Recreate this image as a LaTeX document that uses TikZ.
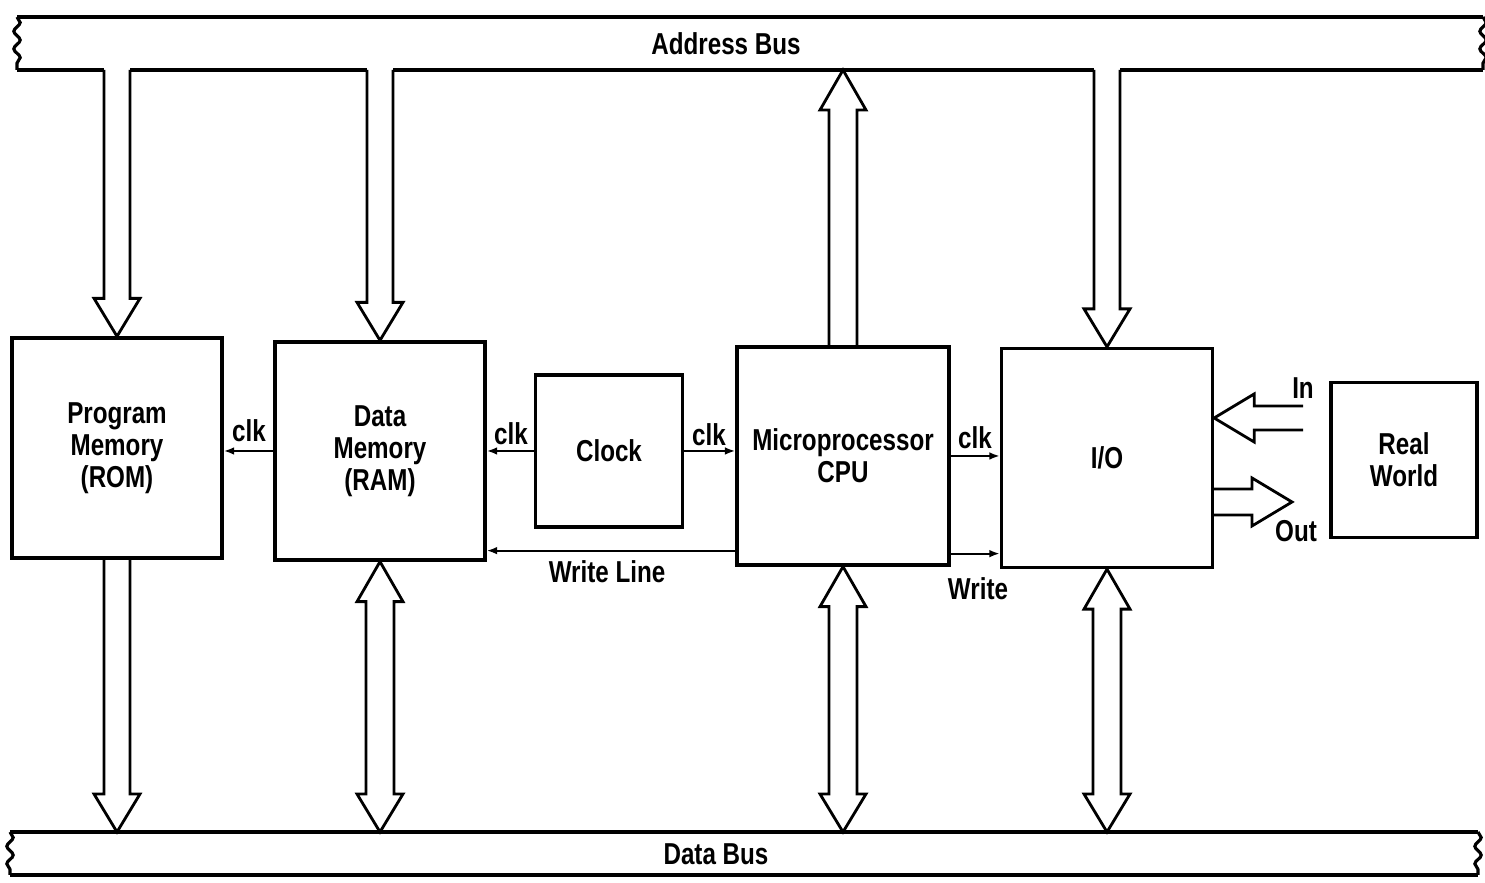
\documentclass[tikz,border=0pt]{standalone}
\usepackage{fontspec}
\newfontfamily\condsans{Liberation Sans}[FakeStretch=0.8]
\usetikzlibrary{arrows.meta,calc,decorations.pathmorphing}

\begin{document}
\begin{tikzpicture}[
  x=0.01cm, y=-0.01cm,
  font=\condsans\bfseries\fontsize{8.6}{9.1}\selectfont,
  block/.style={draw, line width=0.9pt, align=center, inner sep=0pt},
  lbl/.style={inner sep=1pt},
  sig/.style={line width=0.6pt, -{Latex[length=3pt,width=2.2pt]}},
  busline/.style={line width=0.9pt},
  busend/.style={line width=0.9pt, decorate,
    decoration={snake, amplitude=0.9pt, segment length=5pt}},
  fat/.style={line width=0.8pt, line join=miter},
  % hollow bus arrows: tip at the target
  fatdown/.style={fat, to path={
    ($(\tikztostart)+(-13,0)$) -- ($(\tikztotarget)+(-13,-38)$)
    -- ($(\tikztotarget)+(-23,-38)$) -- (\tikztotarget)
    -- ($(\tikztotarget)+(23,-38)$) -- ($(\tikztotarget)+(13,-38)$)
    -- ($(\tikztostart)+(13,0)$)}},
  fatup/.style={fat, to path={
    ($(\tikztostart)+(-14,0)$) -- ($(\tikztotarget)+(-14,40)$)
    -- ($(\tikztotarget)+(-23,40)$) -- (\tikztotarget)
    -- ($(\tikztotarget)+(23,40)$) -- ($(\tikztotarget)+(14,40)$)
    -- ($(\tikztostart)+(14,0)$)}},
  fatboth/.style={fat, to path={
    (\tikztostart) -- ($(\tikztostart)+(23,40)$) -- ($(\tikztostart)+(14,40)$)
    -- ($(\tikztotarget)+(14,-38)$) -- ($(\tikztotarget)+(23,-38)$)
    -- (\tikztotarget) -- ($(\tikztotarget)+(-23,-38)$)
    -- ($(\tikztotarget)+(-14,-38)$) -- ($(\tikztostart)+(-14,40)$)
    -- ($(\tikztostart)+(-23,40)$) -- cycle}},
  fatleft/.style={fat, to path={
    ($(\tikztostart)+(0,-12)$) -- ($(\tikztotarget)+(40,-12)$)
    -- ($(\tikztotarget)+(40,-24)$) -- (\tikztotarget)
    -- ($(\tikztotarget)+(40,24)$) -- ($(\tikztotarget)+(40,12)$)
    -- ($(\tikztostart)+(0,12)$)}},
  fatright/.style={fat, to path={
    ($(\tikztostart)+(0,-13)$) -- ($(\tikztotarget)+(-40,-13)$)
    -- ($(\tikztotarget)+(-40,-24)$) -- (\tikztotarget)
    -- ($(\tikztotarget)+(-40,24)$) -- ($(\tikztotarget)+(-40,13)$)
    -- ($(\tikztostart)+(0,13)$)}}
]
\useasboundingbox (0,0) rectangle (1485,883);

% ── Blocks ──────────────────────────────────────────────────────
\node[block, minimum width=2.10cm, minimum height=2.20cm] (rom)   at (117,448)  {Program\\Memory\\(ROM)};
\node[block, minimum width=2.10cm, minimum height=2.18cm] (ram)   at (380,451)  {Data\\Memory\\(RAM)};
\node[block, minimum width=1.47cm, minimum height=1.52cm] (clock) at (609,451)  {Clock};
\node[block, minimum width=2.12cm, minimum height=2.18cm] (cpu)   at (843,456)  {Microprocessor\\CPU};
\node[block, minimum width=2.11cm, minimum height=2.19cm] (io)    at (1107,458) {I/O};
\node[block, minimum width=1.46cm, minimum height=1.55cm] (world) at (1404,460) {Real\\World};

% ── Address bus (top) ──────────────────────────────────────────
\coordinate (ab-nw) at (17,17);
\coordinate (ab-se) at (1483,70);
\coordinate (ab-rom) at (rom.north |- ab-se);
\coordinate (ab-ram) at (ram.north |- ab-se);
\coordinate (ab-cpu) at (cpu.north |- ab-se);
\coordinate (ab-io)  at (io.north |- ab-se);
\draw[busline] (ab-nw) -- (ab-nw -| ab-se);
\draw[busline]
  (ab-nw |- ab-se) -- ($(ab-rom)+(-13,0)$)
  ($(ab-rom)+(13,0)$) -- ($(ab-ram)+(-13,0)$)
  ($(ab-ram)+(13,0)$) -- ($(ab-io)+(-13,0)$)
  ($(ab-io)+(13,0)$) -- (ab-se);
\draw[busend] (ab-nw) -- (ab-nw |- ab-se);
\draw[busend] (ab-nw -| ab-se) -- (ab-se);
\node[lbl] (abus) at (726,44) {Address Bus};

% ── Data bus (bottom) ──────────────────────────────────────────
\coordinate (db-nw) at (10,832);
\coordinate (db-se) at (1478,875);
\coordinate (db-rom) at (rom.south |- db-nw);
\coordinate (db-ram) at (ram.south |- db-nw);
\coordinate (db-cpu) at (cpu.south |- db-nw);
\coordinate (db-io)  at (io.south |- db-nw);
\draw[busline] (db-nw) -- (db-nw -| db-se)  (db-nw |- db-se) -- (db-se);
\draw[busend] (db-nw) -- (db-nw |- db-se);
\draw[busend] (db-nw -| db-se) -- (db-se);
\node[lbl] (dbus) at (716,854) {Data Bus};

% ── Bus arrows ─────────────────────────────────────────────────
\draw[fatdown] (ab-rom) to (rom.north);
\draw[fatdown] (ab-ram) to (ram.north);
\draw[fatup]   (cpu.north) to (ab-cpu);
\draw[fatdown] (ab-io) to (io.north);
\draw[fatdown] (rom.south) to (db-rom);
\draw[fatboth] (ram.south) to (db-ram);
\draw[fatboth] (cpu.south) to (db-cpu);
\draw[fatboth] (io.south) to (db-io);

% ── Clock and write lines ──────────────────────────────────────
\draw[sig] (ram.west) -- (ram.west -| rom.east);
\draw[sig] (clock.west) -- (clock.west -| ram.east);
\draw[sig] (clock.east) -- (clock.east -| cpu.west);
\draw[sig] (cpu.east) -- (cpu.east -| io.west);
\coordinate (wl) at ($(cpu.south west)+(0,-16)$);
\coordinate (wr) at ($(cpu.south east)+(0,-13)$);
\draw[sig] (wl) -- (wl -| ram.east);
\draw[sig] (wr) -- (wr -| io.west);
\node[lbl] (clk1) at (249,431) {clk};
\node[lbl] (clk2) at (511,434) {clk};
\node[lbl] (clk3) at (709,435) {clk};
\node[lbl] (clk4) at (975,438) {clk};
\node[lbl] (wline) at (607,572) {Write Line};
\node[lbl] (write) at (978,589) {Write};

% ── Real world in/out ──────────────────────────────────────────
\coordinate (in-tail) at (1303,418);
\coordinate (out-tip) at (1292,502);
\draw[fatleft]  (in-tail) to (in-tail -| io.east);
\draw[fatright] (out-tip -| io.east) to (out-tip);
\node[lbl] (in)  at (1303,388) {In};
\node[lbl] (out) at (1296,531) {Out};

\end{tikzpicture}
\end{document}
